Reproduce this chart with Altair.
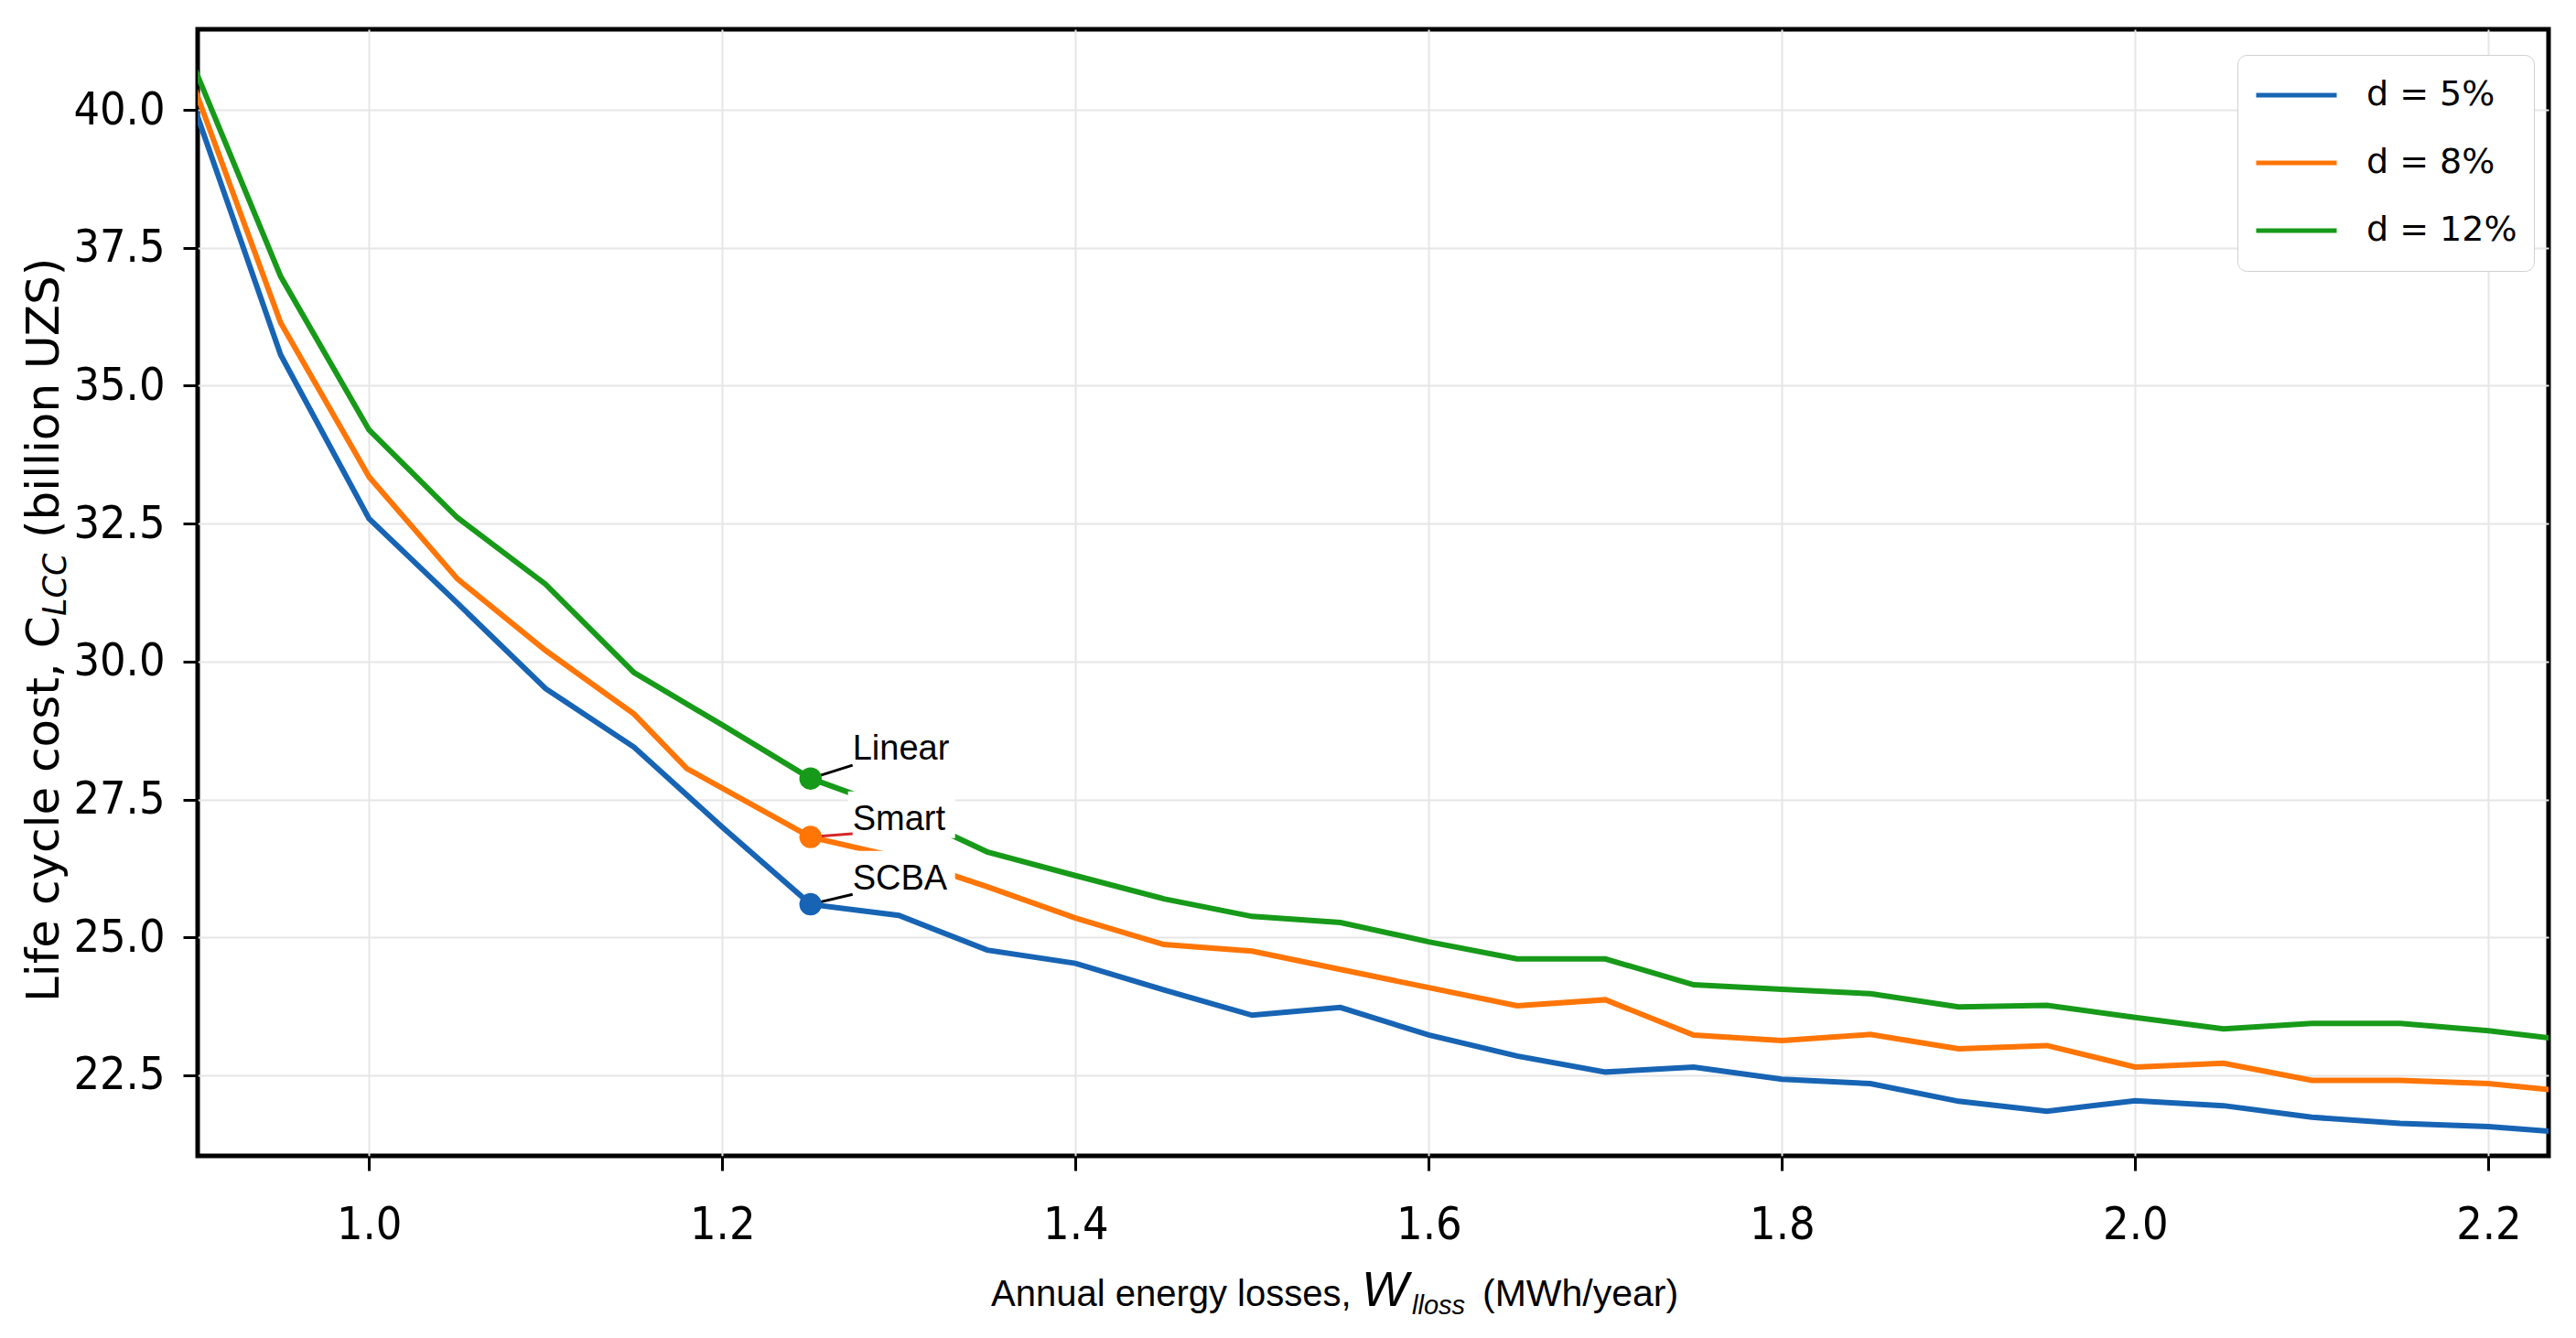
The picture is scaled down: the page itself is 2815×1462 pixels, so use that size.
"""Life cycle cost vs annual energy losses, three discount rates."""

import altair as alt
import pandas as pd

# -- data ---------------------------------------------------------------------
W_LOSS = [0.90, 0.95, 1.00, 1.05, 1.10, 1.15, 1.20, 1.25, 1.30, 1.35, 1.40,
          1.45, 1.50, 1.55, 1.60, 1.65, 1.70, 1.75, 1.80, 1.85, 1.90, 1.95,
          2.00, 2.05, 2.10, 2.15, 2.20, 2.25]
# the d = 8% curve bends a little before 1.2
W_LOSS_D8 = [0.90, 0.95, 1.00, 1.05, 1.10, 1.15, 1.18, 1.25, 1.30, 1.35, 1.40,
             1.45, 1.50, 1.55, 1.60, 1.65, 1.70, 1.75, 1.80, 1.85, 1.90, 1.95,
             2.00, 2.05, 2.10, 2.15, 2.20, 2.25]

LCC_D5 = [40.15, 35.56, 32.59, 31.06, 29.51, 28.45, 27.00, 25.60, 25.40, 24.77,
          24.53, 24.05, 23.59, 23.73, 23.23, 22.85, 22.56, 22.65, 22.43, 22.35,
          22.03, 21.85, 22.04, 21.95, 21.74, 21.63, 21.57, 21.45]
LCC_D8 = [40.50, 36.14, 33.35, 31.50, 30.20, 29.05, 28.06, 26.82, 26.45, 25.92,
          25.35, 24.87, 24.75, 24.42, 24.09, 23.76, 23.87, 23.23, 23.13, 23.24,
          22.98, 23.04, 22.65, 22.72, 22.41, 22.41, 22.35, 22.19]
LCC_D12 = [40.85, 36.98, 34.20, 32.61, 31.40, 29.80, 28.85, 27.88, 27.30, 26.55,
           26.12, 25.70, 25.38, 25.27, 24.92, 24.61, 24.61, 24.14, 24.06, 23.98,
           23.74, 23.77, 23.55, 23.34, 23.44, 23.44, 23.31, 23.12]

SERIES = ["d = 5%", "d = 8%", "d = 12%"]
COLORS = ["#1764b4", "#ff7506", "#179a19"]

X_TICKS = [1.0, 1.2, 1.4, 1.6, 1.8, 2.0, 2.2]
Y_TICKS = [22.5, 25.0, 27.5, 30.0, 32.5, 35.0, 37.5, 40.0]

# highlighted points and their labels
POINT_LABELS = ["Linear", "Smart", "SCBA"]
POINT_SERIES = ["d = 12%", "d = 8%", "d = 5%"]
POINT_W = [1.25, 1.25, 1.25]
POINT_LCC = [27.88, 26.82, 25.60]
LABEL_W = [1.2738, 1.2738, 1.2738]
LABEL_LCC = [28.22, 26.95, 25.87]
LEADER_LCC = [28.12, 26.88, 25.78]
LEADER_COLORS = ["black", "#d62728", "black"]

ARIAL = "Liberation Sans, Arial, sans-serif"
NARROW = "DejaVu Sans Condensed, DejaVu Sans, sans-serif"
WIDE = "DejaVu Sans, sans-serif"


def title_piece(text, x, y, size, font, italic=False, angle=0):
    mark = dict(text=text, font=font, fontSize=size, align="left",
                baseline="alphabetic", color="black")
    if italic:
        mark["fontStyle"] = "italic"
    if angle:
        mark["angle"] = angle
    return (
        alt.Chart(alt.Data(values=[{}]))
        .mark_text(**mark)
        .encode(x=alt.value(x), y=alt.value(y))
    )


def main() -> None:
    rows = []
    for name, xs, ys in zip(SERIES, [W_LOSS, W_LOSS_D8, W_LOSS],
                            [LCC_D5, LCC_D8, LCC_D12]):
        rows += [{"series": name, "w": x, "lcc": y} for x, y in zip(xs, ys)]
    curves = pd.DataFrame(rows)

    points = pd.DataFrame({
        "label": POINT_LABELS, "series": POINT_SERIES,
        "w": POINT_W, "lcc": POINT_LCC,
        "lw": LABEL_W, "llcc": LABEL_LCC,
        "lead": LEADER_LCC, "lead_color": LEADER_COLORS,
    })

    x_scale = alt.Scale(domain=[0.903, 2.234], nice=False, zero=False)
    y_scale = alt.Scale(domain=[21.04, 41.46], nice=False, zero=False)
    color = alt.Color(
        "series:N",
        scale=alt.Scale(domain=SERIES, range=COLORS),
        sort=SERIES,
        legend=alt.Legend(
            title=None, orient="none", legendX=2229, legendY=28,
            symbolType="stroke", symbolSize=7744, symbolStrokeWidth=5,
            clipHeight=52, rowPadding=22, padding=18, labelOffset=30,
            labelFont=WIDE, labelFontSize=38, labelColor="black",
            labelLimit=400,
            fillColor="white", strokeColor="#d0d0d0", cornerRadius=10,
        ),
    )

    # -- the three curves ------------------------------------------------------
    lines = (
        alt.Chart(curves)
        .mark_line(strokeWidth=6, clip=True)
        .encode(
            x=alt.X("w:Q", scale=x_scale,
                    axis=alt.Axis(values=X_TICKS, format=".1f", title=None)),
            y=alt.Y("lcc:Q", scale=y_scale,
                    axis=alt.Axis(values=Y_TICKS, format=".1f", title=None)),
            color=color,
            order="w:Q",
        )
    )

    # -- white boxes behind the annotation texts --------------------------------
    boxes = (
        alt.Chart(points)
        .mark_rect(color="white", xOffset=-5, x2Offset=112, yOffset=9,
                   y2Offset=-42)
        .encode(x="lw:Q", x2="lw:Q", y="llcc:Q", y2="llcc:Q")
    )

    leaders = (
        alt.Chart(points)
        .mark_rule(strokeWidth=3)
        .encode(x="w:Q", x2="lw:Q", y="lcc:Q", y2="lead:Q",
                color=alt.Color("lead_color:N", scale=None))
    )

    markers = (
        alt.Chart(points)
        .mark_circle(size=600, opacity=1)
        .encode(x="w:Q", y="lcc:Q", color="series:N")
    )

    labels = (
        alt.Chart(points)
        .mark_text(align="left", baseline="alphabetic", font=ARIAL,
                   fontSize=38, color="black")
        .encode(x="lw:Q", y="llcc:Q", text="label:N")
    )

    # -- axis titles with sub-scripts, built from pieces ------------------------
    titles = [
        title_piece("Annual energy losses,", 867, 1395, 40, ARIAL),
        title_piece("W", 1272, 1395, 54, ARIAL, italic=True),
        title_piece("lloss", 1327, 1404, 29, ARIAL, italic=True),
        title_piece("(MWh/year)", 1404, 1395, 41, ARIAL),
        title_piece("Life cycle cost, C", -152, 1063, 50, WIDE, angle=270),
        title_piece("LCC", -144, 641, 35, WIDE, italic=True, angle=270),
        title_piece("(billion UZS)", -152, 556, 50, WIDE, angle=270),
    ]

    chart = (
        alt.layer(lines, boxes, leaders, markers, labels, *titles)
        .properties(
            width=2569, height=1231,
            padding={"left": 208, "top": 24, "right": 22, "bottom": 191},
            autosize=alt.AutoSizeParams(type="none"),
            background="white",
        )
        .configure_view(stroke="black", strokeWidth=5)
        .configure_axis(
            grid=True, gridColor="#e6e6e6", gridWidth=2, domain=False,
            ticks=True, tickColor="black", tickWidth=3, tickSize=16,
            labelFont=NARROW, labelFontSize=50, labelColor="black",
        )
        .configure_axisX(labelPadding=34)
        .configure_axisY(labelPadding=20)
    )

    chart.save("out.html", embed_options={"renderer": "svg", "actions": False})


if __name__ == "__main__":
    main()
